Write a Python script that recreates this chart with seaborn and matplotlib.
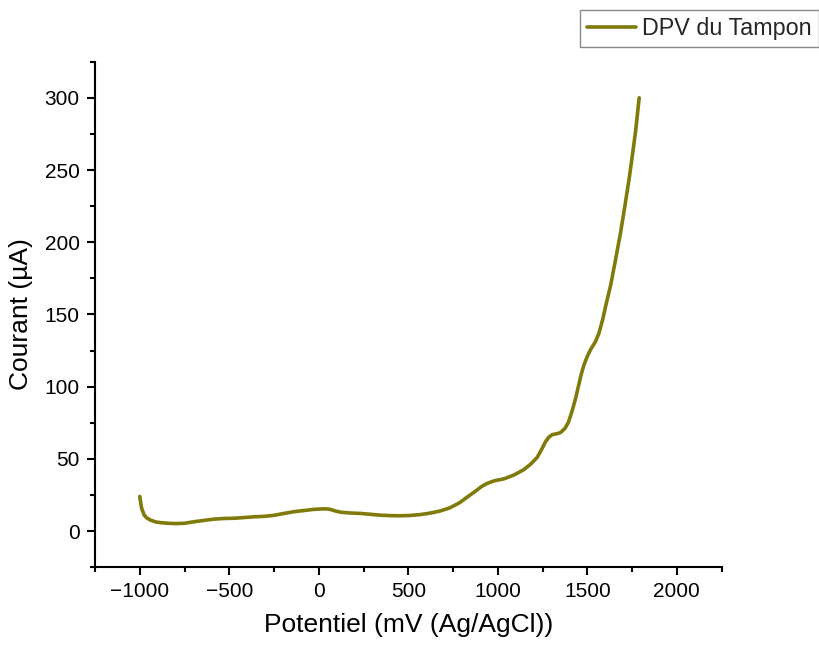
import matplotlib
matplotlib.use("Agg")
import matplotlib.pyplot as plt
from matplotlib.ticker import MultipleLocator, AutoMinorLocator
import seaborn as sns
import pandas as pd

# DPV scan of the buffer: potential (mV vs Ag/AgCl) and current (µA)
potential = [-1000, -990, -975, -960, -940, -910, -880, -840, -800, -750, -695,
             -640, -585, -530, -470, -415, -360, -305, -250, -195, -140, -85,
             -30, 10, 40, 65, 90, 125, 180, 235, 290, 345, 400, 455, 510, 565,
             620, 675, 730, 785, 840, 880, 905, 940, 980, 1035, 1090, 1145,
             1185, 1220, 1245, 1265, 1285, 1305, 1330, 1350, 1375, 1395, 1415,
             1435, 1450, 1465, 1480, 1500, 1520, 1545, 1565, 1585, 1605, 1630,
             1655, 1685, 1710, 1735, 1755, 1770, 1790]
current = [24.0, 16.0, 11.0, 9.0, 7.6, 6.3, 5.8, 5.4, 5.2, 5.4, 6.5,
           7.4, 8.3, 8.7, 8.9, 9.4, 9.9, 10.2, 10.9, 12.2, 13.4, 14.2,
           15.0, 15.3, 15.4, 15.0, 14.0, 13.0, 12.5, 12.2, 11.6, 11.0, 10.7, 10.6, 10.8, 11.4,
           12.4, 13.8, 16.0, 19.5, 24.5, 28.0, 30.5, 33.0, 34.8, 36.2, 38.8, 42.5,
           46.5, 51.0, 56.5, 61.5, 65.0, 66.8, 67.4, 68.2, 71.0, 75.5, 83.0,
           92.0, 100.0, 108.0, 114.5, 121.0, 126.0, 131.0, 137.0, 146.0, 157.0, 170.0,
           186.0, 206.0, 225.0, 245.0, 263.0, 277.0, 300.0]

df = pd.DataFrame({"Potentiel": potential, "Courant": current})

sns.set_theme(style="ticks")
plt.rcParams["font.family"] = ["Liberation Sans", "DejaVu Sans"]

fig = plt.figure(figsize=(8.19, 6.46), dpi=100)
ax = fig.add_axes([0.116, 0.122, 0.765, 0.7825])

sns.lineplot(data=df, x="Potentiel", y="Courant", ax=ax, sort=False,
             color="#7f7a0a", linewidth=2.6, label="DPV du Tampon", legend=False)

ax.set_xlim(-1250, 2250)
ax.set_ylim(-25, 325)
ax.xaxis.set_major_locator(MultipleLocator(500))
ax.xaxis.set_minor_locator(AutoMinorLocator(2))
ax.yaxis.set_major_locator(MultipleLocator(50))
ax.yaxis.set_minor_locator(AutoMinorLocator(2))

for side in ("top", "right"):
    ax.spines[side].set_visible(False)
for side in ("left", "bottom"):
    ax.spines[side].set_linewidth(1.5)
    ax.spines[side].set_color("black")

ax.tick_params(axis="both", which="major", direction="out", length=6, width=1.5,
               labelsize=15, colors="black", pad=5)
ax.tick_params(axis="both", which="minor", direction="out", length=3.5, width=1.5,
               colors="black")
ax.set_xticklabels([f"{int(t)}".replace("-", "\u2212") for t in ax.get_xticks()])

ax.set_xlabel("Potentiel (mV (Ag/AgCl))", fontsize=19, color="black", labelpad=8)
ax.set_ylabel("Courant (µA)", fontsize=19, color="black", labelpad=8)

handles, labels = ax.get_legend_handles_labels()
leg = fig.legend(handles, labels, loc="upper left", bbox_to_anchor=(0.708, 0.985),
                 fontsize=16.8, frameon=True, fancybox=False, edgecolor="#888888",
                 framealpha=1, handlelength=2.1, borderpad=0.3, handletextpad=0.28,
                 borderaxespad=0)
leg.get_frame().set_linewidth(1.0)

fig.savefig("out.png", dpi=100)
